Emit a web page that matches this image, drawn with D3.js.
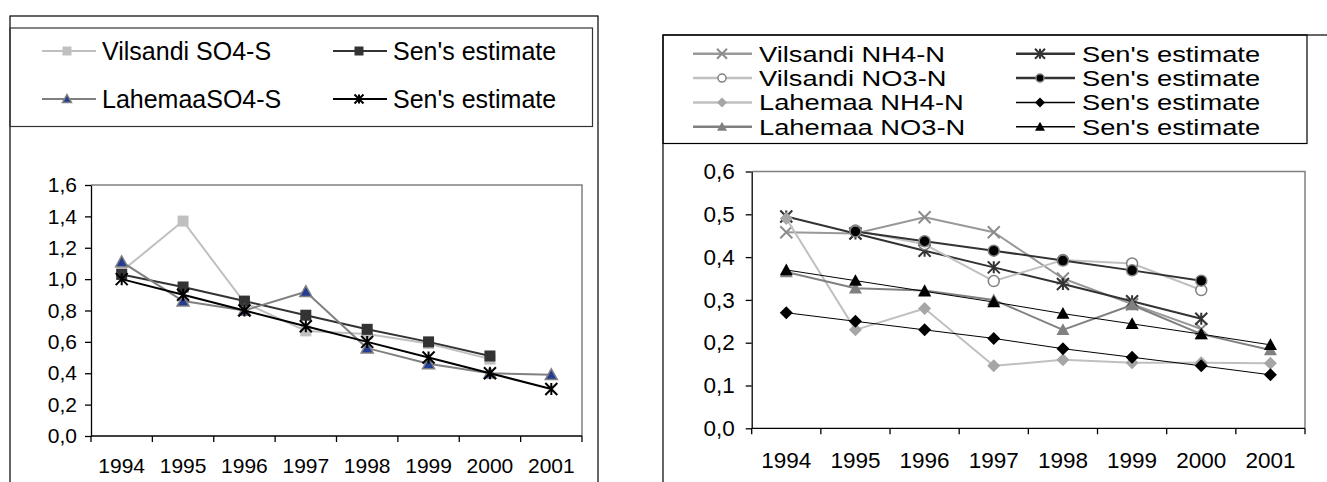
<!DOCTYPE html>
<html><head><meta charset="utf-8">
<script src="https://cdn.jsdelivr.net/npm/d3@7"></script>
<style>
html,body{margin:0;padding:0;background:#fff;}
svg{display:block;font-family:"Liberation Sans",Arial,sans-serif;}
</style></head><body>
<svg id="c" width="1327" height="482"></svg>
<script>
// ---------- DATA ----------
const years = ["1994","1995","1996","1997","1998","1999","2000","2001"];

// Left chart (SO4-S)
const vilsandiSO4    = [1.05, 1.37, 0.85, 0.67, 0.65, 0.59, 0.49, null];
const senVilsandiSO4 = [1.03, 0.95, 0.86, 0.77, 0.68, 0.60, 0.51, null];
const lahemaaSO4     = [1.11, 0.86, 0.80, 0.92, 0.56, 0.46, 0.40, 0.39];
const senLahemaaSO4  = [1.00, 0.90, 0.80, 0.70, 0.60, 0.50, 0.40, 0.30];
const leftTicks = [0, 0.2, 0.4, 0.6, 0.8, 1.0, 1.2, 1.4, 1.6];

// Right chart (NH4-N, NO3-N)
const vilsandiNH4    = [0.458, 0.455, 0.493, 0.458, 0.350, 0.290, 0.232, null];
const senVilsandiNH4 = [0.495, 0.455, 0.415, 0.376, 0.337, 0.297, 0.256, null];
const vilsandiNO3    = [null, 0.462, 0.430, 0.344, 0.393, 0.385, 0.323, null];
const senVilsandiNO3 = [null, 0.460, 0.437, 0.415, 0.392, 0.369, 0.345, null];
const lahemaaNH4     = [0.490, 0.230, 0.280, 0.146, 0.160, 0.153, 0.153, 0.152];
const senLahemaaNH4  = [0.270, 0.250, 0.230, 0.210, 0.186, 0.166, 0.146, 0.125];
const lahemaaNO3     = [0.365, 0.327, 0.322, 0.300, 0.230, 0.288, 0.220, 0.183];
const senLahemaaNO3  = [0.370, 0.345, 0.320, 0.295, 0.268, 0.244, 0.220, 0.195];
const rightTicks = [0, 0.1, 0.2, 0.3, 0.4, 0.5, 0.6];

const leftNames  = ["Vilsandi SO4-S", "Sen's estimate", "LahemaaSO4-S", "Sen's estimate"];
const rightNames = ["Vilsandi NH4-N", "Sen's estimate", "Vilsandi NO3-N", "Sen's estimate",
                    "Lahemaa NH4-N", "Sen's estimate", "Lahemaa NO3-N", "Sen's estimate"];

// ---------- STYLES ----------
const leftSeries = [
  {name: leftNames[0], values: vilsandiSO4,    line: "#c0c0c0", lw: 2, marker: "square",   fill: "#c0c0c0", stroke: "none", size: 11},
  {name: leftNames[1], values: senVilsandiSO4, line: "#333333", lw: 2, marker: "square",   fill: "#333333", stroke: "none", size: 11},
  {name: leftNames[2], values: lahemaaSO4,     line: "#808080", lw: 2, marker: "triangle", fill: "#233d92", stroke: "#808080", sw: 1.5, size: 12},
  {name: leftNames[3], values: senLahemaaSO4,  line: "#000000", lw: 2, marker: "star",     fill: "none",    stroke: "#000000", sw: 2, size: 12}
];
const rightSeries = [
  {name: rightNames[0], values: vilsandiNH4,    line: "#999999", lw: 2, marker: "x",        fill: "none",    stroke: "#8c8c8c", sw: 2, size: 12},
  {name: rightNames[1], values: senVilsandiNH4, line: "#333333", lw: 2, marker: "star",     fill: "none",    stroke: "#333333", sw: 2, size: 12},
  {name: rightNames[2], values: vilsandiNO3,    line: "#c0c0c0", lw: 2, marker: "circle",   fill: "#ffffff", stroke: "#808080", sw: 1.5, size: 11},
  {name: rightNames[3], values: senVilsandiNO3, line: "#333333", lw: 2, marker: "circle",   fill: "#000000", stroke: "#808080", sw: 1.5, size: 11},
  {name: rightNames[4], values: lahemaaNH4,     line: "#c0c0c0", lw: 2, marker: "diamond",  fill: "#a6a6a6", stroke: "none", size: 13},
  {name: rightNames[5], values: senLahemaaNH4,  line: "#000000", lw: 1, marker: "diamond",  fill: "#000000", stroke: "none", size: 13},
  {name: rightNames[6], values: lahemaaNO3,     line: "#808080", lw: 2, marker: "triangle", fill: "#808080", stroke: "none", size: 13},
  {name: rightNames[7], values: senLahemaaNO3,  line: "#000000", lw: 1, marker: "triangle", fill: "#000000", stroke: "none", size: 13}
];

const svg = d3.select("#c");
const fmt = d => d3.format(".1f")(d).replace(".", ",");

function markerPath(type, s) {
  const h = s / 2;
  switch (type) {
    case "square":   return `M${-h},${-h}h${s}v${s}h${-s}Z`;
    case "triangle": return `M0,${-h}L${h},${h * 0.8}L${-h},${h * 0.8}Z`;
    case "diamond":  return `M0,${-h}L${h},0L0,${h}L${-h},0Z`;
    case "x":        return `M${-h},${-h}L${h},${h}M${h},${-h}L${-h},${h}`;
    case "star":     return `M${-h},${-h}L${h},${h}M${h},${-h}L${-h},${h}M0,${-h}L0,${h}`;
  }
}
function drawMarker(g, s, cx, cy, size) {
  if (s.marker === "circle") {
    g.append("circle").attr("cx", cx).attr("cy", cy).attr("r", size / 2)
      .attr("fill", s.fill).attr("stroke", s.stroke).attr("stroke-width", s.sw || 1);
  } else {
    g.append("path").attr("d", markerPath(s.marker, size))
      .attr("transform", `translate(${cx},${cy})`)
      .attr("fill", s.fill).attr("stroke", s.stroke).attr("stroke-width", s.sw || 1);
  }
}

function drawChart(cfg) {
  const g = svg.append("g");
  const x = d3.scaleBand().domain(years).range([cfg.x0, cfg.x1]);
  const y = d3.scaleLinear().domain([0, cfg.ymax]).range([cfg.y1, cfg.y0]);

  // plot border (top/right gray)
  g.append("path").attr("d", `M${cfg.x0},${cfg.y0}H${cfg.x1}V${cfg.y1}`)
    .attr("fill", "none").attr("stroke", "#808080").attr("stroke-width", 1.5);

  // y axis
  const ya = g.append("g").attr("transform", `translate(${cfg.x0},0)`)
    .call(d3.axisLeft(y).tickValues(cfg.ticks).tickSize(6).tickSizeOuter(0)
      .tickPadding(cfg.ypad).tickFormat(fmt));
  ya.selectAll("text").attr("font-size", cfg.fs).attr("fill", "#000")
    .attr("font-family", '"Liberation Sans",Arial,sans-serif');
  ya.selectAll("line,path").attr("stroke", "#000").attr("stroke-width", 1.3);

  // x axis labels
  const xa = g.append("g").attr("transform", `translate(0,${cfg.y1})`)
    .call(d3.axisBottom(x).tickSize(0).tickPadding(cfg.xpad));
  xa.select(".domain").remove();
  xa.selectAll("text").attr("font-size", cfg.fs).attr("fill", "#000")
    .attr("font-family", '"Liberation Sans",Arial,sans-serif');

  // x axis line & boundary ticks
  g.append("path").attr("d", `M${cfg.x0},${cfg.y1}H${cfg.x1}`)
    .attr("stroke", "#000").attr("stroke-width", 1.3);
  const bounds = years.map(d => x(d)).concat([cfg.x1]);
  g.selectAll(".bt").data(bounds).enter().append("line")
    .attr("x1", d => d).attr("x2", d => d).attr("y1", cfg.y1).attr("y2", cfg.y1 + 6)
    .attr("stroke", "#000").attr("stroke-width", 1.3);

  // series
  const cx = d => x(d) + x.bandwidth() / 2;
  cfg.series.forEach(s => {
    const pts = years.map((yr, i) => ({yr, v: s.values[i]}));
    const line = d3.line().defined(d => d.v != null).x(d => cx(d.yr)).y(d => y(d.v));
    g.append("path").attr("d", line(pts)).attr("fill", "none")
      .attr("stroke", s.line).attr("stroke-width", s.lw).attr("stroke-linejoin", "round");
    pts.filter(d => d.v != null).forEach(d => drawMarker(g, s, cx(d.yr), y(d.v), s.size));
  });
}

// ---------- LEFT CHART ----------
svg.append("rect").attr("x", 10).attr("y", 16).attr("width", 588).attr("height", 500)
  .attr("fill", "#fff").attr("stroke", "#000").attr("stroke-width", 1.2);
svg.append("rect").attr("x", 10).attr("y", 28).attr("width", 582.5).attr("height", 98.5)
  .attr("fill", "none").attr("stroke", "#333").attr("stroke-width", 1.2);

drawChart({x0: 91, x1: 582, y0: 185, y1: 436, ymax: 1.6, ticks: leftTicks,
  fs: 21, ypad: 8, xpad: 22, series: leftSeries});

// left legend
{
  const g = svg.append("g");
  const cols = [{lx: 42, mx: 67, tx: 102}, {lx: 333, mx: 359, tx: 393}];
  const rows = [51, 99];
  leftSeries.forEach((s, i) => {
    const c = cols[i % 2], ry = rows[Math.floor(i / 2)];
    g.append("line").attr("x1", c.lx).attr("x2", c.lx + 54).attr("y1", ry).attr("y2", ry)
      .attr("stroke", s.line).attr("stroke-width", s.lw);
    drawMarker(g, s, c.mx, ry, 9);
    g.append("text").attr("x", c.tx).attr("y", ry + 9).attr("font-size", 25)
      .attr("fill", "#000").text(s.name);
  });
}

// ---------- RIGHT CHART ----------
svg.append("rect").attr("x", 663).attr("y", 35).attr("width", 700).attr("height", 500)
  .attr("fill", "#fff").attr("stroke", "#000").attr("stroke-width", 1.2);
svg.append("rect").attr("x", 663).attr("y", 35).attr("width", 644).attr("height", 108.5)
  .attr("fill", "none").attr("stroke", "#000").attr("stroke-width", 1.2);

drawChart({x0: 751.7, x1: 1305, y0: 171.5, y1: 428.3, ymax: 0.6, ticks: rightTicks,
  fs: 22.5, ypad: 11, xpad: 24, series: rightSeries});

// right legend
{
  const g = svg.append("g");
  const cols = [{lx: 693, mx: 722, tx: 759}, {lx: 1016, mx: 1040, tx: 1082}];
  rightSeries.forEach((s, i) => {
    const c = cols[i % 2], ry = 53.8 + 24.3 * Math.floor(i / 2);
    g.append("line").attr("x1", c.lx).attr("x2", c.lx + 59).attr("y1", ry).attr("y2", ry)
      .attr("stroke", s.line).attr("stroke-width", s.lw + 0.5);
    drawMarker(g, s, c.mx, ry, s.marker === "circle" ? 8 : 10);
    const t = g.append("text").attr("x", c.tx).attr("y", ry + 8).attr("font-size", 22)
      .attr("fill", "#000").text(s.name);
    const w = t.node().getComputedTextLength();
    t.attr("textLength", w * 1.24).attr("lengthAdjust", "spacingAndGlyphs");
  });
}
</script>
</body></html>
